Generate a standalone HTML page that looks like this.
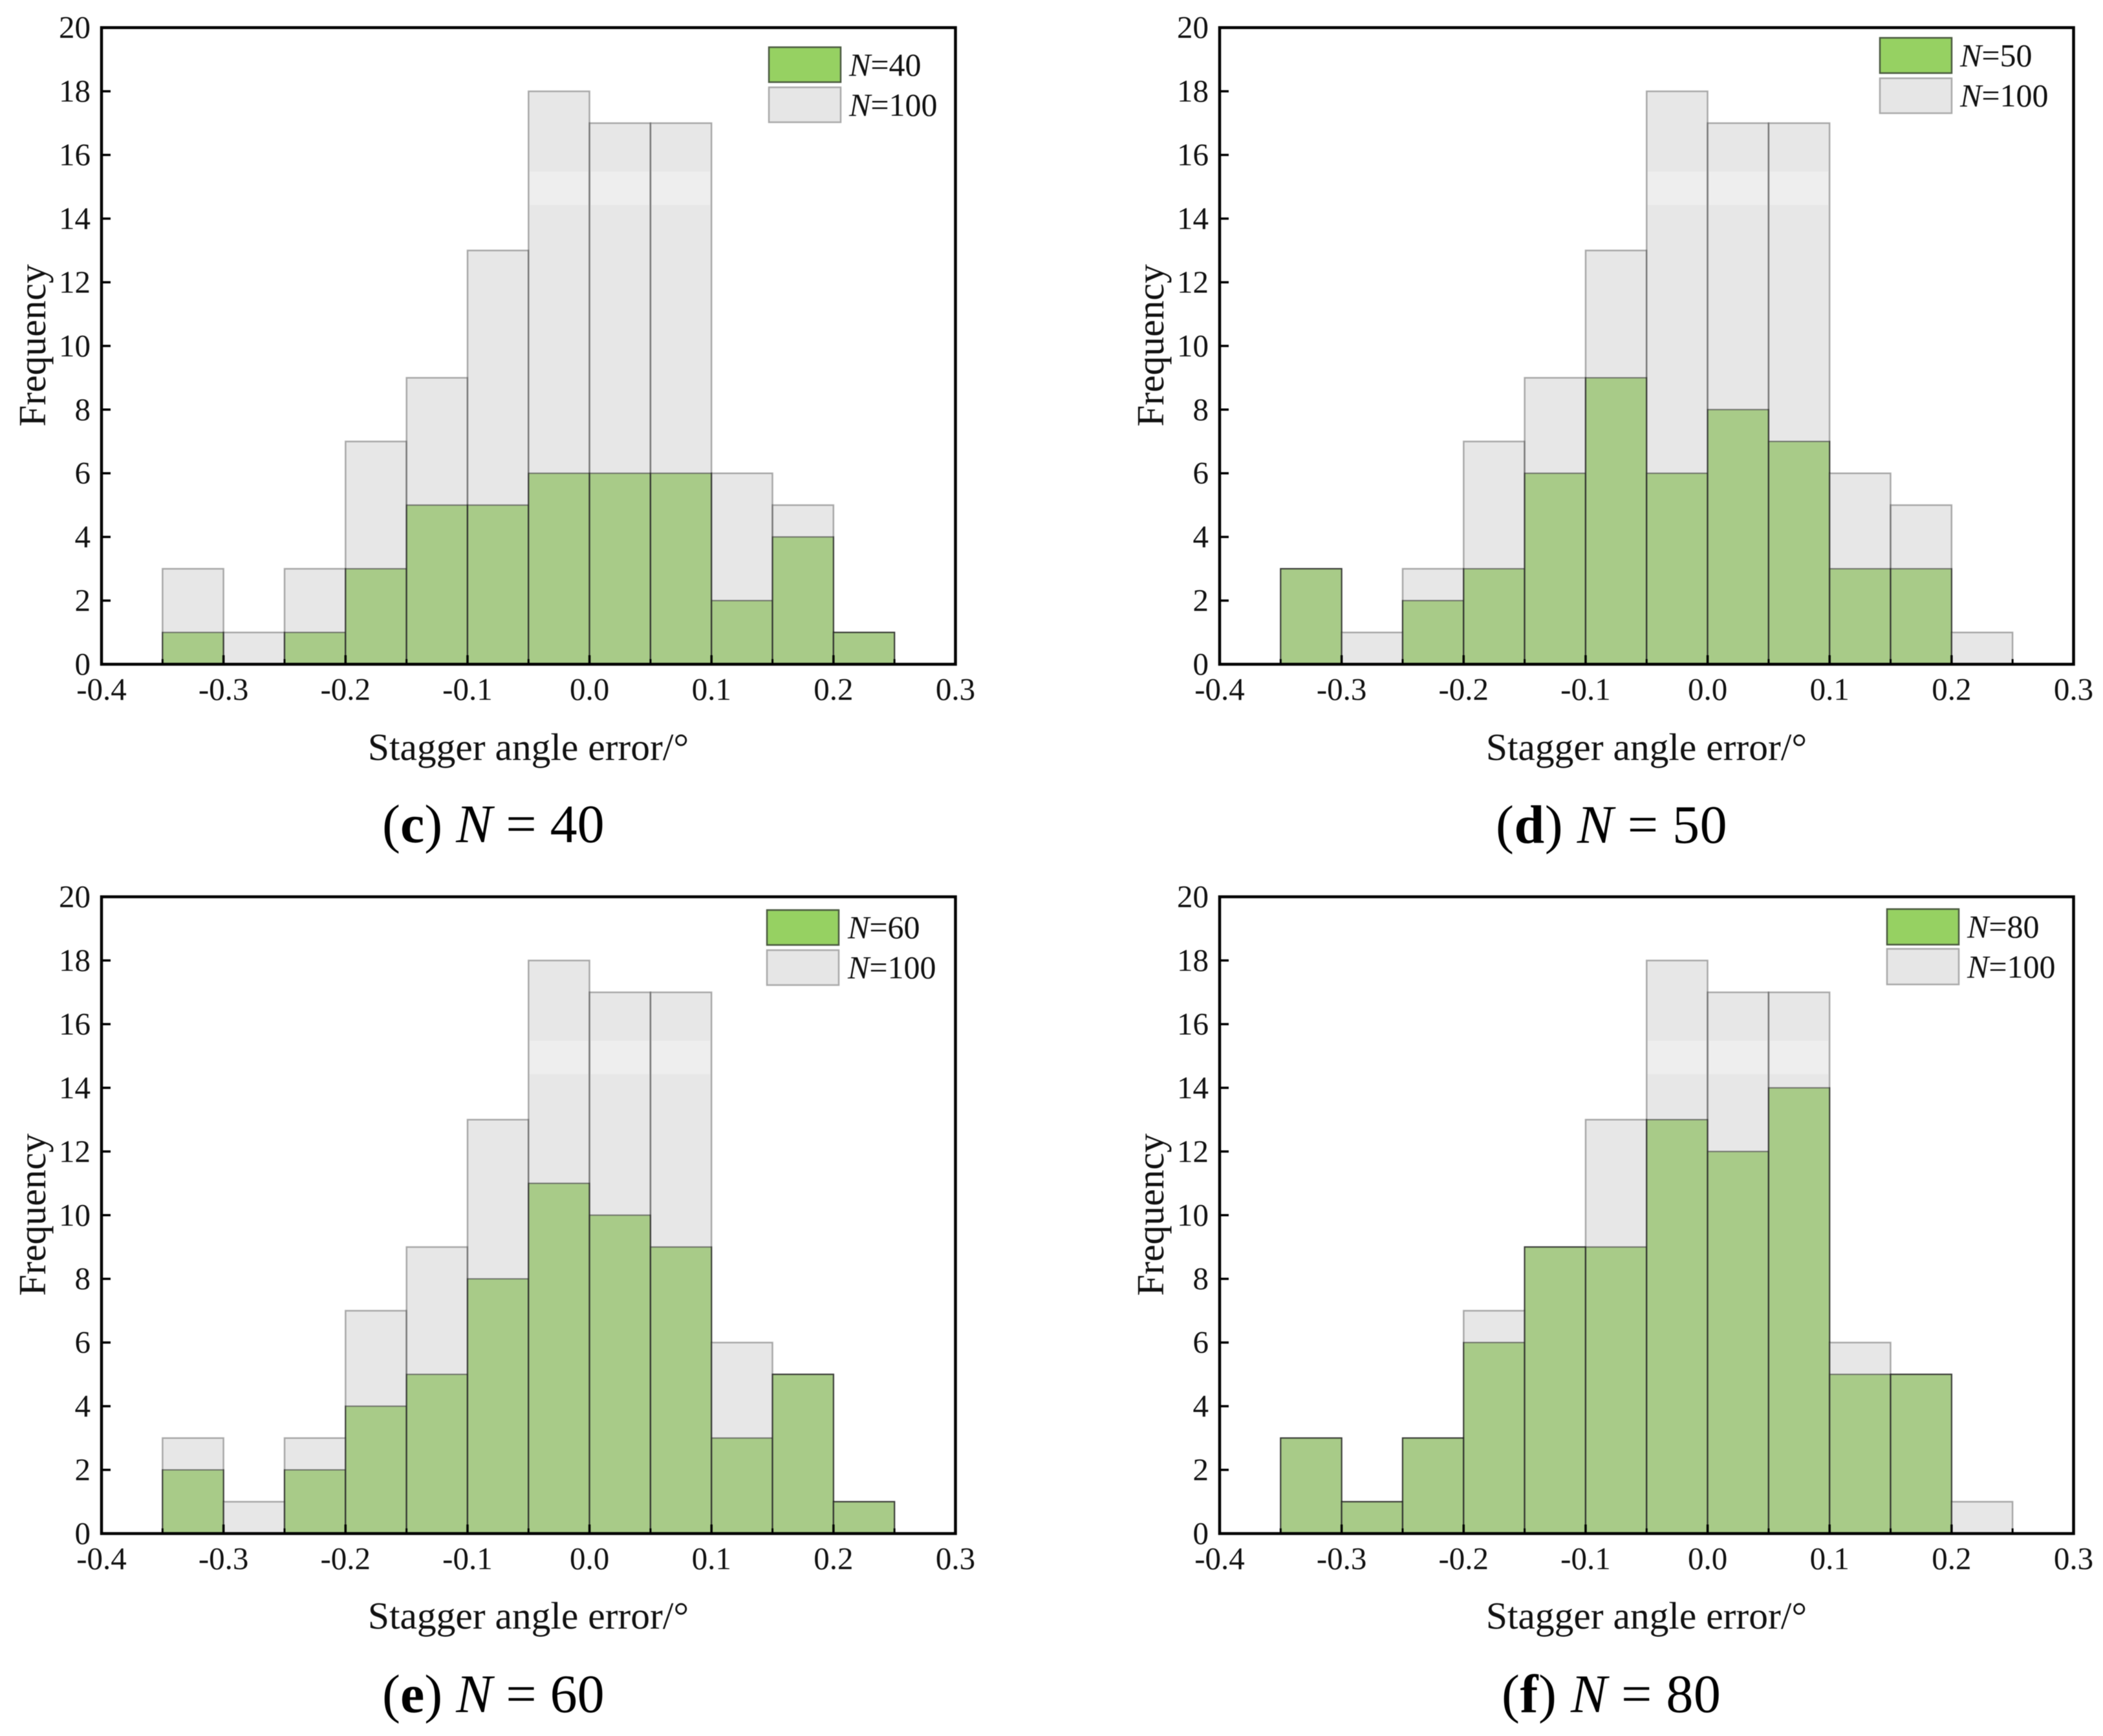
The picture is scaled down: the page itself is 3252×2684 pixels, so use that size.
<!DOCTYPE html>
<html lang="en">
<head>
<meta charset="utf-8">
<title>Stagger angle error histograms</title>
<style>
html,body{margin:0;padding:0;background:#fff;width:3252px;height:2684px;overflow:hidden}
svg{display:block;filter:blur(.6px)}
text{font-family:"Liberation Serif",serif;fill:#111}
.title{font-size:59.5px}
.tick{font-size:49px}
.leg{font-size:50px}
.cap{font-size:84px;fill:#000}
</style>
</head>
<body>
<svg id="figure" xmlns="http://www.w3.org/2000/svg" width="3252" height="2684" viewBox="0 0 3252 2684">
  <g id="panel-c"></g>
  <g id="panel-d"></g>
  <g id="panel-e"></g>
  <g id="panel-f"></g>

  <g>
    <text class="title" x="817" y="1175" text-anchor="middle">Stagger angle error/°</text>
    <text class="title" x="2546" y="1175" text-anchor="middle">Stagger angle error/°</text>
    <text class="title" x="817" y="2518" text-anchor="middle">Stagger angle error/°</text>
    <text class="title" x="2546" y="2518" text-anchor="middle">Stagger angle error/°</text>
    <text class="title" transform="translate(70,534) rotate(-90)" text-anchor="middle">Frequency</text>
    <text class="title" transform="translate(1799,534) rotate(-90)" text-anchor="middle">Frequency</text>
    <text class="title" transform="translate(70,1878) rotate(-90)" text-anchor="middle">Frequency</text>
    <text class="title" transform="translate(1799,1878) rotate(-90)" text-anchor="middle">Frequency</text>
  </g>

  <g>
    <rect x="1189" y="73" width="111" height="54" fill="#96d162" stroke="#4a5a40" stroke-width="2.5"/>
    <rect x="1189" y="135" width="111" height="54" fill="#e6e6e6" stroke="#aaa" stroke-width="2.5"/>
    <text class="leg" x="1313" y="117"><tspan font-style="italic">N</tspan>=40</text>
    <text class="leg" x="1313" y="179"><tspan font-style="italic">N</tspan>=100</text>
  </g>
  <g>
    <rect x="2907" y="58.5" width="111" height="54.5" fill="#96d162" stroke="#4a5a40" stroke-width="2.5"/>
    <rect x="2907" y="121" width="111" height="54" fill="#e6e6e6" stroke="#aaa" stroke-width="2.5"/>
    <text class="leg" x="3031" y="102.5"><tspan font-style="italic">N</tspan>=50</text>
    <text class="leg" x="3031" y="164.5"><tspan font-style="italic">N</tspan>=100</text>
  </g>
  <g>
    <rect x="1186" y="1407" width="111" height="54" fill="#96d162" stroke="#4a5a40" stroke-width="2.5"/>
    <rect x="1186" y="1469" width="111" height="54" fill="#e6e6e6" stroke="#aaa" stroke-width="2.5"/>
    <text class="leg" x="1311" y="1450.5"><tspan font-style="italic">N</tspan>=60</text>
    <text class="leg" x="1311" y="1512.5"><tspan font-style="italic">N</tspan>=100</text>
  </g>
  <g>
    <rect x="2918" y="1405.5" width="111" height="55" fill="#96d162" stroke="#4a5a40" stroke-width="2.5"/>
    <rect x="2918" y="1467" width="111" height="55" fill="#e6e6e6" stroke="#aaa" stroke-width="2.5"/>
    <text class="leg" x="3042" y="1449.5"><tspan font-style="italic">N</tspan>=80</text>
    <text class="leg" x="3042" y="1511.5"><tspan font-style="italic">N</tspan>=100</text>
  </g>

  <g>
    <text class="cap" x="591" y="1302">(<tspan font-weight="bold">c</tspan>) <tspan font-style="italic">N</tspan> = 40</text>
    <text class="cap" x="2313" y="1303" letter-spacing="0.5">(<tspan font-weight="bold">d</tspan>) <tspan font-style="italic">N</tspan> = 50</text>
    <text class="cap" x="591" y="2647">(<tspan font-weight="bold">e</tspan>) <tspan font-style="italic">N</tspan> = 60</text>
    <text class="cap" x="2322" y="2647" letter-spacing="0.5">(<tspan font-weight="bold">f</tspan>) <tspan font-style="italic">N</tspan> = 80</text>
  </g>
</svg>
<script>
const binStarts = [-0.35,-0.30,-0.25,-0.20,-0.15,-0.10,-0.05,0.00,0.05,0.10,0.15,0.20];
const binWidth = 0.05;
const valuesN100 = [3,1,3,7,9,13,18,17,17,6,5,1];
const valuesN40 = [1,0,1,3,5,5,6,6,6,2,4,1];
const valuesN50 = [3,0,2,3,6,9,6,8,7,3,3,0];
const valuesN60 = [2,0,2,4,5,8,11,10,9,3,5,1];
const valuesN80 = [3,1,3,6,9,9,13,12,14,5,5,0];
const xTickValues = [-0.4,-0.3,-0.2,-0.1,0.0,0.1,0.2,0.3];
const xTickLabels = ["-0.4","-0.3","-0.2","-0.1","0.0","0.1","0.2","0.3"];
const xMinorValues = [-0.35,-0.25,-0.15,-0.05,0.05,0.15,0.25];
const yTickValues = [0,2,4,6,8,10,12,14,16,18,20];
const yTickLabels = ["0","2","4","6","8","10","12","14","16","18","20"];
const xDomain = [-0.4, 0.3];
const yDomain = [0, 20];
const bandRange = [14.43, 15.48];

const NS = "http://www.w3.org/2000/svg";
function mk(parent, tag, attrs) {
  const el = document.createElementNS(NS, tag);
  for (const k in attrs) el.setAttribute(k, attrs[k]);
  parent.appendChild(el);
  return el;
}

function drawPanel(id, values, left, right, top, base) {
  const root = document.getElementById(id);
  const sx = v => left + (v - xDomain[0]) / (xDomain[1] - xDomain[0]) * (right - left);
  const sy = v => base - (v - yDomain[0]) / (yDomain[1] - yDomain[0]) * (base - top);

  binStarts.forEach((b, i) => {
    if (values[i] <= 0) return;
    const bar = mk(root, "rect", {
      x: sx(b), y: sy(values[i]),
      width: sx(b + binWidth) - sx(b), height: sy(0) - sy(values[i]),
      fill: "#96d162", stroke: "#000", "stroke-opacity": "0.72", "stroke-width": "2"
    });
    
    
  });

  binStarts.forEach((b, i) => {
    if (valuesN100[i] <= 0) return;
    const bar = mk(root, "rect", {
      x: sx(b), y: sy(valuesN100[i]),
      width: sx(b + binWidth) - sx(b), height: sy(0) - sy(valuesN100[i]),
      fill: "rgb(194,194,194)", "fill-opacity": "0.4",
      stroke: "#000", "stroke-opacity": "0.3", "stroke-width": "2.5"
    });
    
    
  });

  binStarts.forEach((b, i) => {
    if (valuesN100[i] < bandRange[1]) return;
    const band = mk(root, "rect", {
      x: sx(b) + 2, y: sy(bandRange[1]),
      width: sx(b + binWidth) - sx(b) - 4, height: sy(bandRange[0]) - sy(bandRange[1]),
      fill: "#fff", "fill-opacity": "0.3"
    });
    
    
  });

  const frame = mk(root, "rect", {
    x: left, y: top, width: right - left, height: base - top,
    fill: "none", stroke: "#000", "stroke-width": "4.5"
  });
  
  

  xTickValues.forEach((v, i) => {
    const tick = mk(root, "line", { x1: sx(v), x2: sx(v), y1: base, y2: base - 14, stroke: "#000", "stroke-width": "3.5" });
    
    
    const label = mk(root, "text", { class: "tick", x: sx(v), y: base + 55, "text-anchor": "middle" });
    label.textContent = xTickLabels[i];
    
    
  });

  xMinorValues.forEach(v => {
    const tick = mk(root, "line", { x1: sx(v), x2: sx(v), y1: base, y2: base - 8, stroke: "#000", "stroke-width": "3" });
    
    
  });

  yTickValues.forEach((v, i) => {
    const tick = mk(root, "line", { x1: left, x2: left + 14, y1: sy(v), y2: sy(v), stroke: "#000", "stroke-width": "3.5" });
    
    
    const label = mk(root, "text", { class: "tick", x: left - 17, y: sy(v) + 16, "text-anchor": "end" });
    label.textContent = yTickLabels[i];
    
    
  });
}

drawPanel("panel-c", valuesN40, 157, 1477.5, 42.7, 1027);
drawPanel("panel-d", valuesN50, 1886, 3206.5, 42.7, 1027);
drawPanel("panel-e", valuesN60, 157, 1477.5, 1386.5, 2371);
drawPanel("panel-f", valuesN80, 1886, 3206.5, 1386.5, 2371);
</script>
</body>
</html>
